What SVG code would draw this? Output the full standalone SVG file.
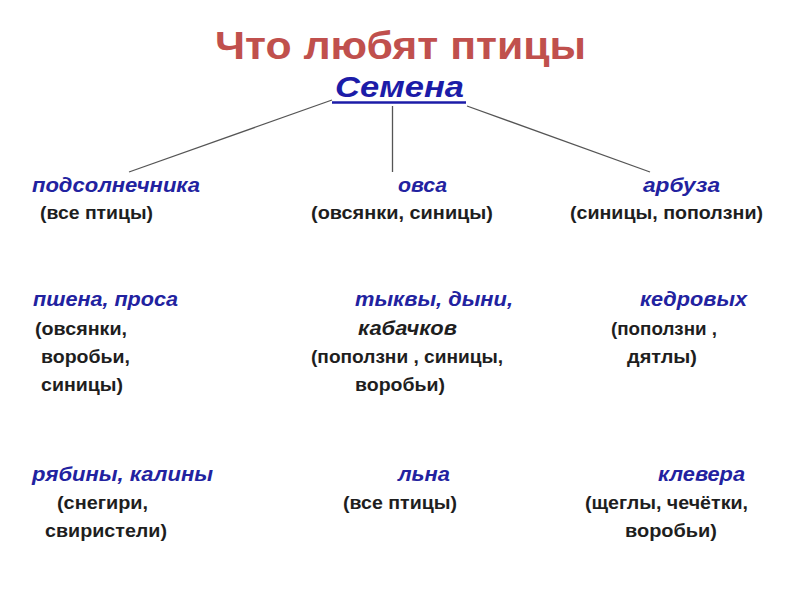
<svg xmlns="http://www.w3.org/2000/svg" width="800" height="600" viewBox="0 0 800 600">
<style>
text{font-family:"Liberation Sans",Arial,sans-serif;font-weight:bold}
.title{font-size:39px;fill:#c0504d}
.root{font-style:italic;font-size:30px;fill:#1c1ca8}
.seed{font-style:italic;font-size:21px;fill:#2222a0}
.bird{font-size:19px;fill:#1e1e1e}
.birdi{font-style:italic;font-size:20px;fill:#1e1e1e}
.c{stroke:#555;stroke-width:1.3;fill:none}
</style>
<rect width="800" height="600" fill="#fff"/>
<text class="title" x="215" y="59" textLength="371" lengthAdjust="spacingAndGlyphs">Что любят птицы</text>
<g id="root">
<text class="root" x="335" y="97" textLength="129" lengthAdjust="spacingAndGlyphs">Семена</text>
<line x1="332" y1="102.5" x2="466" y2="102.5" stroke="#1c1ca8" stroke-width="2.5"/>
</g>
<g id="connectors">
<line class="c" x1="332" y1="100" x2="129" y2="172"/>
<line class="c" x1="392.5" y1="106" x2="392.5" y2="172"/>
<line class="c" x1="467" y1="106" x2="650" y2="172"/>
</g>
<g id="n1">
<text class="seed" x="32" y="192" textLength="168" lengthAdjust="spacingAndGlyphs">подсолнечника</text>
<text class="bird" x="40" y="219" textLength="113" lengthAdjust="spacingAndGlyphs">(все птицы)</text>
</g>
<g id="n2">
<text class="seed" x="398" y="192" textLength="49" lengthAdjust="spacingAndGlyphs">овса</text>
<text class="bird" x="311" y="219" textLength="182" lengthAdjust="spacingAndGlyphs">(овсянки, синицы)</text>
</g>
<g id="n3">
<text class="seed" x="643" y="192" textLength="77" lengthAdjust="spacingAndGlyphs">арбуза</text>
<text class="bird" x="570" y="219" textLength="193" lengthAdjust="spacingAndGlyphs">(синицы, поползни)</text>
</g>
<g id="n4">
<text class="seed" x="33" y="306" textLength="145" lengthAdjust="spacingAndGlyphs">пшена, проса</text>
<text class="bird" x="35" y="335" textLength="92" lengthAdjust="spacingAndGlyphs">(овсянки,</text>
<text class="bird" x="41" y="363" textLength="89" lengthAdjust="spacingAndGlyphs">воробьи,</text>
<text class="bird" x="41" y="391" textLength="82" lengthAdjust="spacingAndGlyphs">синицы)</text>
</g>
<g id="n5">
<text class="seed" x="355" y="306" textLength="158" lengthAdjust="spacingAndGlyphs">тыквы, дыни,</text>
<text class="birdi" x="358" y="335" textLength="99" lengthAdjust="spacingAndGlyphs">кабачков</text>
<text class="bird" x="311" y="363" textLength="192" lengthAdjust="spacingAndGlyphs">(поползни , синицы,</text>
<text class="bird" x="355" y="391" textLength="90" lengthAdjust="spacingAndGlyphs">воробьи)</text>
</g>
<g id="n6">
<text class="seed" x="640" y="306" textLength="107" lengthAdjust="spacingAndGlyphs">кедровых</text>
<text class="bird" x="611" y="335" textLength="106" lengthAdjust="spacingAndGlyphs">(поползни ,</text>
<text class="bird" x="627" y="363" textLength="70" lengthAdjust="spacingAndGlyphs">дятлы)</text>
</g>
<g id="n7">
<text class="seed" x="32" y="481" textLength="181" lengthAdjust="spacingAndGlyphs">рябины, калины</text>
<text class="bird" x="57" y="509" textLength="91" lengthAdjust="spacingAndGlyphs">(снегири,</text>
<text class="bird" x="45" y="537" textLength="122" lengthAdjust="spacingAndGlyphs">свиристели)</text>
</g>
<g id="n8">
<text class="seed" x="398" y="481" textLength="52" lengthAdjust="spacingAndGlyphs">льна</text>
<text class="bird" x="343" y="509" textLength="114" lengthAdjust="spacingAndGlyphs">(все птицы)</text>
</g>
<g id="n9">
<text class="seed" x="658" y="481" textLength="87" lengthAdjust="spacingAndGlyphs">клевера</text>
<text class="bird" x="585" y="509" textLength="163" lengthAdjust="spacingAndGlyphs">(щеглы, чечётки,</text>
<text class="bird" x="625" y="537" textLength="92" lengthAdjust="spacingAndGlyphs">воробьи)</text>
</g>
</svg>
